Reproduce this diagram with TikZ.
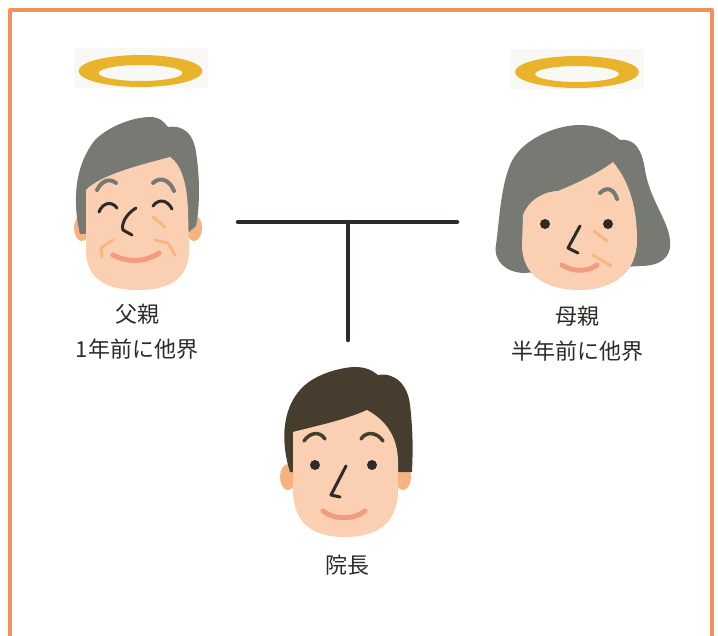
\documentclass[tikz,border=0pt]{standalone}
\usepackage{fontspec}
\newfontfamily\jpfont{Noto Sans CJK JP}
\usepackage{tikz}

\definecolor{framecol}{HTML}{F0925A}
\definecolor{halocol}{HTML}{E9B42C}
\definecolor{halobg}{HTML}{F8F9F5}
\definecolor{grayhair}{HTML}{767A73}
\definecolor{brownhair}{HTML}{463D2E}
\definecolor{skin}{HTML}{FBCFB1}
\definecolor{earcol}{HTML}{F7B27F}
\definecolor{lip}{HTML}{F29B82}
\definecolor{wrinkle}{HTML}{F7B783}
\definecolor{ink}{HTML}{2E2A25}

% halo over a head: centre x, centre y
\newcommand{\halo}[2]{%
    \fill[halobg] (#1-67,#2-23) rectangle (#1+67,#2+17);
    \fill[halocol, even odd rule] (#1,#2) ellipse [x radius=62, y radius=16]
        (#1,#2+2) ellipse [x radius=42, y radius=8];
}

\begin{document}
\begin{tikzpicture}[
            x = 1pt, y = -1pt, % pixel grid, y downwards
            line cap = round,
            line join = round
        ]

        \tikzstyle{personname}=[
            font = \jpfont\fontsize{22}{35}\selectfont,
            text = ink,
            align = center
        ]
        \tikzstyle{link}=[draw = ink, line width = 4.5pt]
        \tikzstyle{feature}=[draw = ink, line width = 3pt]
        \tikzstyle{smile}=[draw = lip, line width = 5pt]
        \tikzstyle{crease}=[draw = wrinkle, line width = 3pt]

        \useasboundingbox (0,0) rectangle (718,635);

        % frame, open at the bottom
        \draw[framecol, line width = 4pt, line cap = butt] (10,645) -- (10,10) -- (712,10) -- (712,645);

        % father
        \halo{140.5}{71}
        \fill[earcol] (82,228) ellipse [x radius=8, y radius=13];
        \fill[earcol] (194,228) ellipse [x radius=8, y radius=13];
        \fill[grayhair] (80,234) .. controls (72,200) and (75,165) .. (95,140)
            .. controls (110,125) and (135,117) .. (150,117)
            .. controls (160,117) and (164,122) .. (168,127)
            .. controls (182,125) and (193,132) .. (196,152)
            .. controls (200,178) and (200,205) .. (196,226) -- (189,232) -- cycle;
        \fill[skin] (86,190) .. controls (100,175) and (140,165) .. (170,157)
            .. controls (182,165) and (187,185) .. (188,210) -- (189,250)
            .. controls (189,280) and (168,290) .. (138,290)
            .. controls (105,290) and (86,278) .. (86,250) -- cycle;
        \draw[grayhair, line width = 4pt] (97,190) .. controls (102,180) and (110,178) .. (116,183);
        \draw[grayhair, line width = 4pt] (153,183) .. controls (160,176) and (170,180) .. (174,191);
        \draw[feature] (99,212) .. controls (103,202) and (112,201) .. (117,208);
        \draw[feature] (153,206) .. controls (158,199) and (167,199) .. (172,209);
        \draw[feature] (136,208) .. controls (126,214) and (121,224) .. (123,230) -- (132,235);
        \draw[smile] (113,255) .. controls (128,263) and (146,262) .. (159,253);
        \draw[crease] (153,217) -- (165,227);
        \draw[crease] (113,240) -- (101,248) -- (102,257);
        \draw[crease] (155,240) -- (168,243) -- (175,255);

        % mother
        \halo{577}{72}
        \fill[earcol] (518,243) ellipse [x radius=8, y radius=13];
        \fill[earcol] (643,237) ellipse [x radius=8, y radius=13];
        \fill[grayhair] (523,273) .. controls (505,272) and (493,260) .. (496,245)
            .. controls (499,225) and (500,190) .. (510,165)
            .. controls (520,140) and (555,125) .. (580,125)
            .. controls (600,125) and (612,133) .. (620,140)
            .. controls (635,138) and (642,150) .. (645,170)
            .. controls (650,200) and (668,220) .. (670,240)
            .. controls (672,258) and (660,266) .. (640,266) -- cycle;
        \fill[skin] (523,215) .. controls (530,197) and (548,191) .. (558,191)
            .. controls (580,182) and (600,172) .. (613,162)
            .. controls (628,180) and (637,205) .. (637,240)
            .. controls (637,275) and (610,290) .. (580,290)
            .. controls (545,290) and (522,275) .. (522,245) -- cycle;
        \draw[grayhair, line width = 4pt] (600,193) .. controls (607,186) and (614,189) .. (617,199);
        \fill[ink] (545,224) circle [radius=5];
        \fill[ink] (608,224) circle [radius=5];
        \draw[feature] (580,226) -- (568,248) -- (578,253);
        \draw[smile] (562,265) .. controls (572,272) and (588,272) .. (597,265);
        \draw[crease] (594,231) -- (607,241);
        \draw[crease] (593,255) -- (611,266);

        % director
        \fill[earcol] (288,477) ellipse [x radius=8, y radius=13];
        \fill[earcol] (403,477) ellipse [x radius=8, y radius=13];
        \fill[brownhair] (290,472) .. controls (280,440) and (282,405) .. (305,385)
            .. controls (320,372) and (345,367) .. (355,367)
            .. controls (365,367) and (372,370) .. (378,375)
            .. controls (395,372) and (408,385) .. (410,405)
            .. controls (413,430) and (413,450) .. (412,472) -- cycle;
        \fill[skin] (293,432) .. controls (320,425) and (345,420) .. (367,410)
            .. controls (385,420) and (397,435) .. (398,460) -- (398,490)
            .. controls (398,525) and (375,537) .. (345,537)
            .. controls (315,537) and (293,525) .. (293,490) -- cycle;
        \draw[brownhair, line width = 3.5pt] (304,441) .. controls (310,432) and (320,431) .. (325,439);
        \draw[brownhair, line width = 3.5pt] (361,439) .. controls (366,431) and (377,432) .. (383,441);
        \fill[ink] (315,465) circle [radius=5];
        \fill[ink] (372,465) circle [radius=5];
        \draw[feature] (346,466) -- (331,495) -- (340,497);
        \draw[smile] (323,511) .. controls (334,520) and (354,520) .. (365,511);

        % names
        \node[personname] (father) at (137,332) {父親\\1年前に他界};
        \node[personname] (mother) at (577,334) {母親\\半年前に他界};
        \node[personname] (director) at (347,565) {院長};

        % family line
        \coordinate (lineL) at (238,222);
        \coordinate (lineR) at (457,222);
        \coordinate (lineM) at (348,222);
        \coordinate (lineB) at (348,340);
        \draw[link] (lineL) -- (lineR);
        \draw[link] (lineM) -- (lineB);
    \end{tikzpicture}
\end{document}
